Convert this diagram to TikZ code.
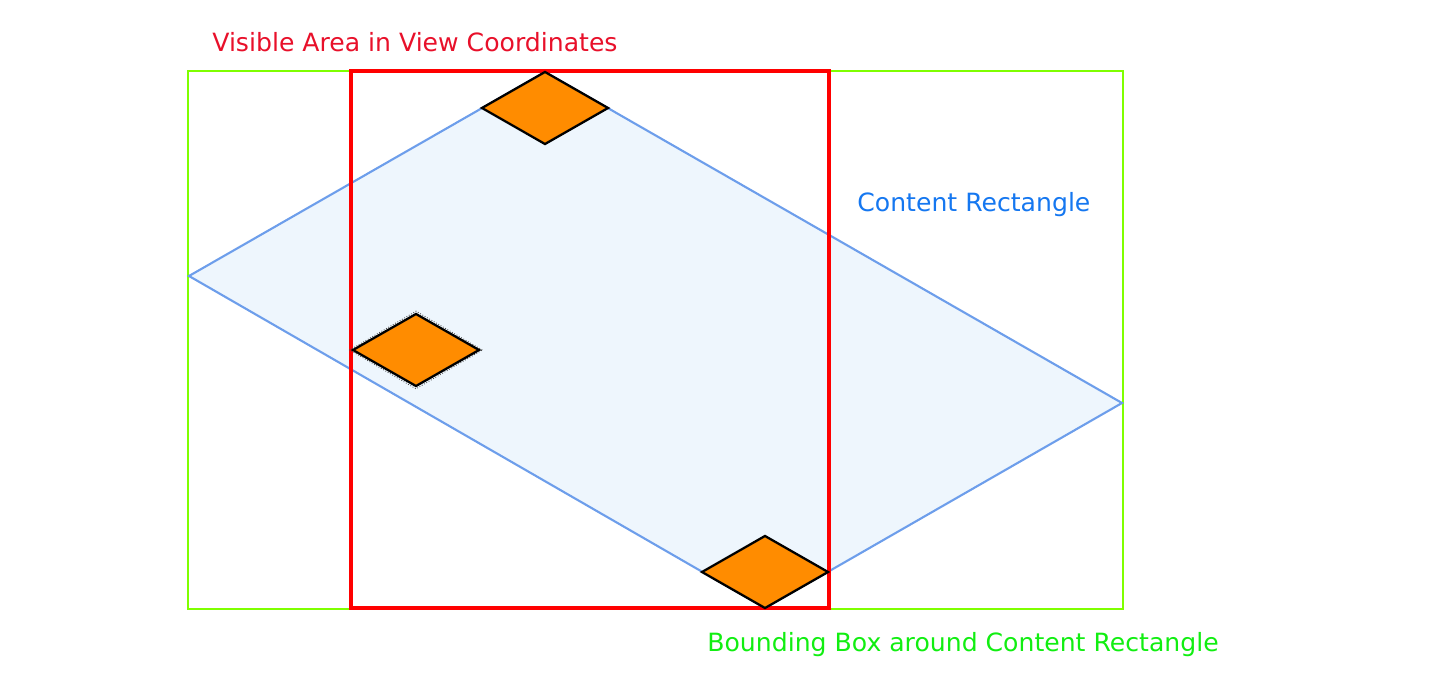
\documentclass[tikz,border=0pt]{standalone}
\usepackage{fontspec}
\setmainfont{DejaVu Sans}
\usetikzlibrary{shapes.geometric, positioning}
\definecolor{viewred}{HTML}{FF0000}
\definecolor{labelred}{HTML}{E8102A}
\definecolor{boxgreen}{HTML}{7FFF00}
\definecolor{labelgreen}{HTML}{11EE11}
\definecolor{contblue}{HTML}{6D9EEB}
\definecolor{contfill}{HTML}{EEF6FD}
\definecolor{labelblue}{HTML}{1577F0}
\definecolor{handle}{HTML}{FF8C00}

\begin{document}
\begin{tikzpicture}[
  x=0.02cm, y=-0.02cm,
  caption/.style={font=\fontsize{14.3}{17}\selectfont, anchor=base west, inner sep=0pt},
  handlebox/.style={
    diamond, draw=black, line width=1.3pt, fill=handle,
    minimum width=2.54cm, minimum height=1.46cm, inner sep=0pt
  },
  selbox/.style={
    diamond, draw=black!70, densely dotted, line width=0.5pt,
    minimum width=2.66cm, minimum height=1.56cm, inner sep=0pt
  },
]

% Canvas
\useasboundingbox (0,0) rectangle (1452,695);

% ---- Bounding box ----
\coordinate (bbnw) at (188,71);
\coordinate (bbse) at (1123,609);
\draw[boxgreen, line width=0.9pt] (bbnw) rectangle (bbse);

% ---- Content rectangle ----
\coordinate (cleft)   at (189,276);
\coordinate (ctop)    at (545,72);
\coordinate (cright)  at (1122,403);
\coordinate (cbottom) at (765,608);
\draw[contblue, fill=contfill, line width=1.2pt]
  (cleft) -- (ctop) -- (cright) -- (cbottom) -- cycle;

% ---- Visible area ----
\coordinate (vanw) at (351,71);
\coordinate (vase) at (829,608);
\draw[viewred, line width=2.1pt] (vanw) rectangle (vase);

% ---- Handles ----
\node[selbox] (selmid) at (416,350) {};
\node[handlebox] (handletop) at (545,108) {};
\node[handlebox] (handlemid) at (416,350) {};
\node[handlebox] (handlebot) at (765,572) {};

% ---- Labels ----
\node[caption, text=labelred]   (viewlabel)    at (212,52)  {Visible Area in View Coordinates};
\node[caption, text=labelblue]  (contentlabel) at (857,212) {Content Rectangle};
\node[caption, text=labelgreen] (bboxlabel)    at (707,651) {Bounding Box around Content Rectangle};

\end{tikzpicture}
\end{document}
